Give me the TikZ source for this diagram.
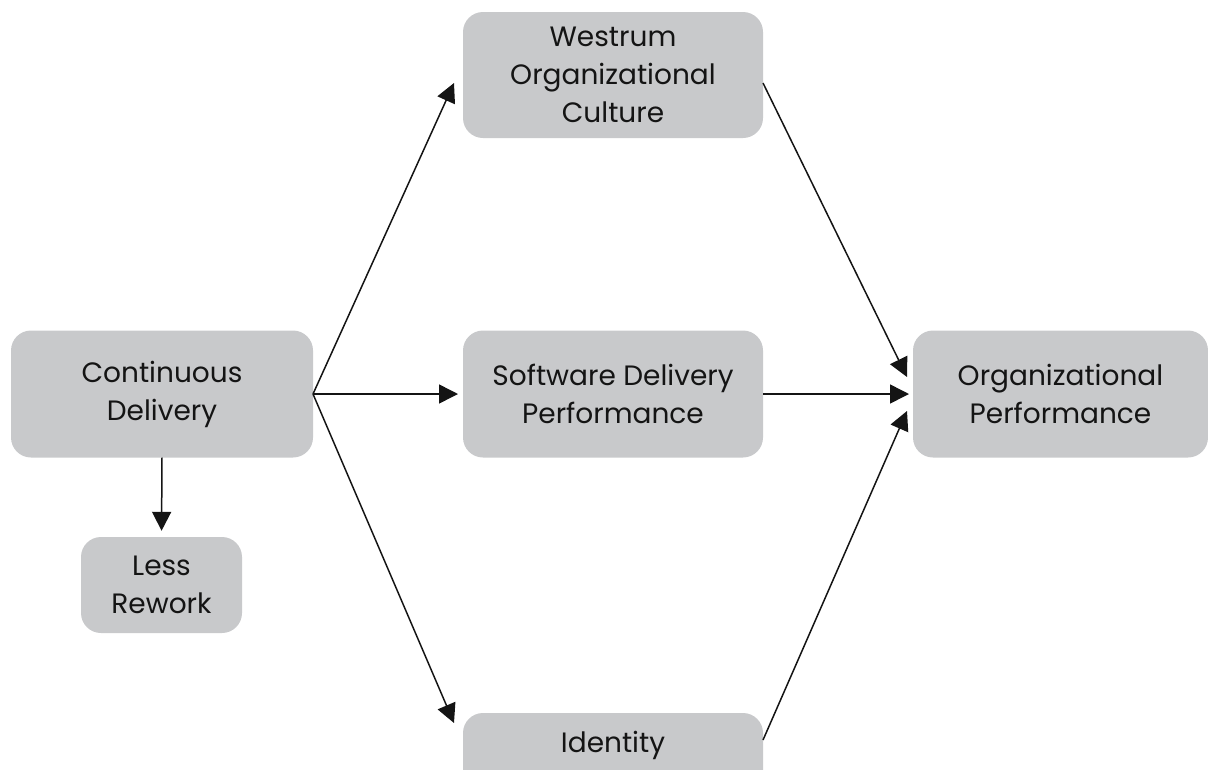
\documentclass[tikz,border=0pt]{standalone}
\usepackage{fontspec}
\setmainfont{Poppins}
\usetikzlibrary{arrows.meta}
\definecolor{boxgray}{RGB}{200,201,203}
\definecolor{ink}{RGB}{20,20,20}
\begin{document}
\begin{tikzpicture}[x=1pt,y=-1pt,
  box/.style={fill=boxgray, rounded corners=20pt, inner sep=0pt, align=center,
    text=ink, font=\fontsize{28}{38}\selectfont},
  conn/.style={draw=ink, line width=1.5pt, -{Triangle[length=19pt,width=19pt]}}]
\useasboundingbox (0,0) rectangle (1208,769);
\clip (0,0) rectangle (1208,769);
\node[box, minimum width=302pt, minimum height=127pt] (cd) at (162,394) {Continuous\\Delivery};
\node[box, minimum width=161pt, minimum height=96pt] (lr) at (161.5,585) {Less\\Rework};
\node[box, minimum width=300pt, minimum height=126pt] (wc) at (613,75) {Westrum\\Organizational\\Culture};
\node[box, minimum width=300pt, minimum height=127pt] (sdp) at (613,394) {Software Delivery\\Performance};
\node[box, minimum width=295pt, minimum height=127pt] (op) at (1060.5,394) {Organizational\\Performance};
\fill[boxgray, rounded corners=20pt] (463,713) rectangle (763,830);
\node[box, fill=none, minimum width=300pt, minimum height=64pt] (id) at (613,745) {Identity};
\coordinate (cdout) at (313,394);
\coordinate (sdpin) at (458,394);
\coordinate (sdpout) at (763,394);
\coordinate (opin2) at (909,394);
\coordinate (wcin) at (454,83);
\coordinate (idin) at (454,723);
\coordinate (wcout) at (763,83);
\coordinate (idout) at (763,740);
\coordinate (opin1) at (907,377);
\coordinate (opin3) at (907,411);
\draw[conn] (cdout) -- (wcin);
\draw[conn] (cdout) -- (sdpin);
\draw[conn] (cdout) -- (idin);
\draw[conn, shorten >=6pt] (cd.south) -- (lr.north);
\draw[conn] (wcout) -- (opin1);
\draw[conn] (sdpout) -- (opin2);
\draw[conn] (idout) -- (opin3);
\end{tikzpicture}
\end{document}
